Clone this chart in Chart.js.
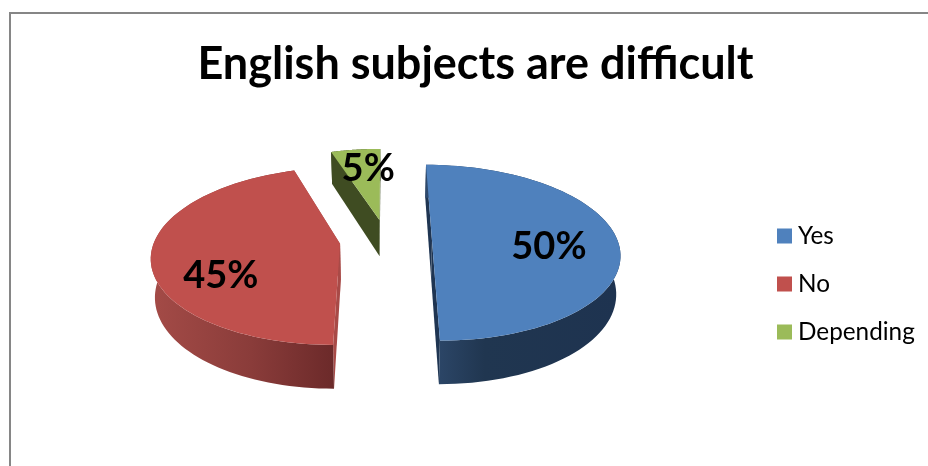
<!DOCTYPE html>
<html>
<head>
<meta charset="utf-8">
<title>English subjects are difficult</title>
<script src="https://cdn.jsdelivr.net/npm/chart.js@4"></script>
<style>
    body { margin: 0; background: #fff; }
    canvas { display: block; }
</style>
</head>
<body>
<canvas id="pieChart" width="928" height="466"></canvas>
<script>
const titleText = "English subjects are difficult";
const categories = ["Yes", "No", "Depending"];
const percentages = [50, 45, 5];
const faceColors = ["#4f81bd", "#c0504d", "#9bbb59"];

// Chart.js has no 3D pie, so the arcs it lays out get projected onto a tilted disc
function project(t, u, v, z, slide) {
    const w = 1 + t.perspective * v;
    return {
        x: t.cx + t.rx * u / w * (1 - z * t.taper) + slide,
        y: t.cy - t.ry * v / w + z * t.depth / w
    };
}

function arcPoints(t, arc, i, z) {
    const explode = t.explode[i];
    const mid = (arc.startAngle + arc.endAngle) / 2;
    const ou = explode * Math.cos(mid), ov = -explode * Math.sin(mid);
    const pts = [];
    const steps = 80;
    for (let s = 0; s <= steps; s++) {
        const a = arc.startAngle + (arc.endAngle - arc.startAngle) * s / steps;
        pts.push(project(t, ou + Math.cos(a), ov - Math.sin(a), z, t.slide[i]));
    }
    return { rim: pts, apex: project(t, ou, ov, z, t.slide[i]) };
}

function tracePath(ctx, pts) {
    ctx.beginPath();
    pts.forEach((p, i) => i ? ctx.lineTo(p.x, p.y) : ctx.moveTo(p.x, p.y));
    ctx.closePath();
}

const tiltedPie = {
    id: "tiltedPie",
    beforeDraw(chart, args, opts) {
        // frame runs off the right and bottom of the canvas
        const ctx = chart.ctx;
        ctx.save();
        ctx.strokeStyle = "#868686";
        ctx.lineWidth = 2;
        ctx.strokeRect(10, 13, 1000, 1000);
        ctx.restore();
    },
    beforeDatasetsDraw(chart, args, opts) {
        const ctx = chart.ctx;
        const arcs = chart.getDatasetMeta(0).data;
        ctx.save();
        arcs.forEach((arc, i) => {
            const top = arcPoints(opts, arc, i, 0);
            const bottom = arcPoints(opts, arc, i, 1);
            const first = top.rim[0], last = top.rim[top.rim.length - 1];
            const firstB = bottom.rim[0], lastB = bottom.rim[bottom.rim.length - 1];

            // cut faces
            ctx.fillStyle = opts.cutColors[i];
            tracePath(ctx, [top.apex, first, firstB, bottom.apex]);
            ctx.fill();
            tracePath(ctx, [top.apex, last, lastB, bottom.apex]);
            ctx.fill();

            // outer wall, darker towards one side
            const xs = top.rim.map(p => p.x);
            const grad = ctx.createLinearGradient(Math.min(...xs), 0, Math.max(...xs), 0);
            opts.wallStops[i].forEach(s => grad.addColorStop(s[0], s[1]));
            ctx.fillStyle = grad;
            tracePath(ctx, top.rim.concat(bottom.rim.slice().reverse()));
            ctx.fill();

            // top face
            ctx.fillStyle = arc.options.backgroundColor;
            tracePath(ctx, [top.apex].concat(top.rim));
            ctx.fill();
        });
        ctx.restore();
        return false;
    },
    afterDraw(chart, args, opts) {
        const ctx = chart.ctx;
        const arcs = chart.getDatasetMeta(0).data;
        ctx.save();
        ctx.fillStyle = "#000";
        ctx.textBaseline = "middle";

        // percentage labels
        ctx.textAlign = "center";
        ctx.font = opts.labelFont;
        arcs.forEach((arc, i) => {
            const mid = (arc.startAngle + arc.endAngle) / 2;
            const r = opts.explode[i] + opts.labelRadius;
            const p = project(opts, r * Math.cos(mid), -r * Math.sin(mid), 0, 0);
            const nudge = opts.labelNudge[i];
            ctx.fillText(percentages[i] + "%", p.x + nudge[0], p.y + nudge[1]);
        });

        // legend: square close to its text
        const lg = opts.legend;
        ctx.textAlign = "left";
        ctx.font = lg.font;
        chart.data.labels.forEach((label, i) => {
            const y = lg.y + i * lg.step;
            ctx.fillStyle = chart.data.datasets[0].backgroundColor[i];
            ctx.fillRect(lg.x, y - lg.box / 2, lg.box, lg.box);
            ctx.fillStyle = "#000";
            ctx.fillText(label, lg.x + lg.box + lg.gap, y);
        });
        ctx.restore();
    }
};

new Chart(document.getElementById("pieChart"), {
    type: "pie",
    data: {
        labels: categories,
        datasets: [{
            data: percentages,
            backgroundColor: faceColors,
            borderWidth: 0
        }]
    },
    options: {
        responsive: false,
        animation: false,
        layout: { padding: { left: 23 } },
        plugins: {
            legend: { display: false },
            tooltip: { enabled: false },
            title: {
                display: true,
                text: titleText,
                color: "#000",
                font: { family: "Lato", size: 45, weight: "bold" },
                padding: { top: 37, bottom: 11 }
            },
            tiltedPie: {
                cx: 383, cy: 240.5, rx: 185.6, ry: 86.2,
                perspective: 0.139,
                depth: 37.5,
                taper: 0.018,
                explode: [0.264, 0.233, 0.25],
                slide: [0, 0, 3.5],
                cutColors: ["#1f3552", "#a84a47", "#3f4c22"],
                wallStops: [
                    [[0, "#2f4a6d"], [0.3, "#203650"], [1, "#1e3350"]],
                    [[0, "#a44b47"], [0.55, "#8a3c3a"], [1, "#6c2a2a"]],
                    [[0, "#3f4c22"], [1, "#3f4c22"]]
                ],
                labelFont: "bold 38px Lato",
                labelRadius: 0.63,
                labelNudge: [[0, 6], [-1, 23], [8, -5]],
                legend: { x: 777, y: 236, step: 48, box: 15, gap: 6, font: "24.3px Lato" }
            }
        }
    },
    plugins: [tiltedPie]
});
</script>
</body>
</html>
